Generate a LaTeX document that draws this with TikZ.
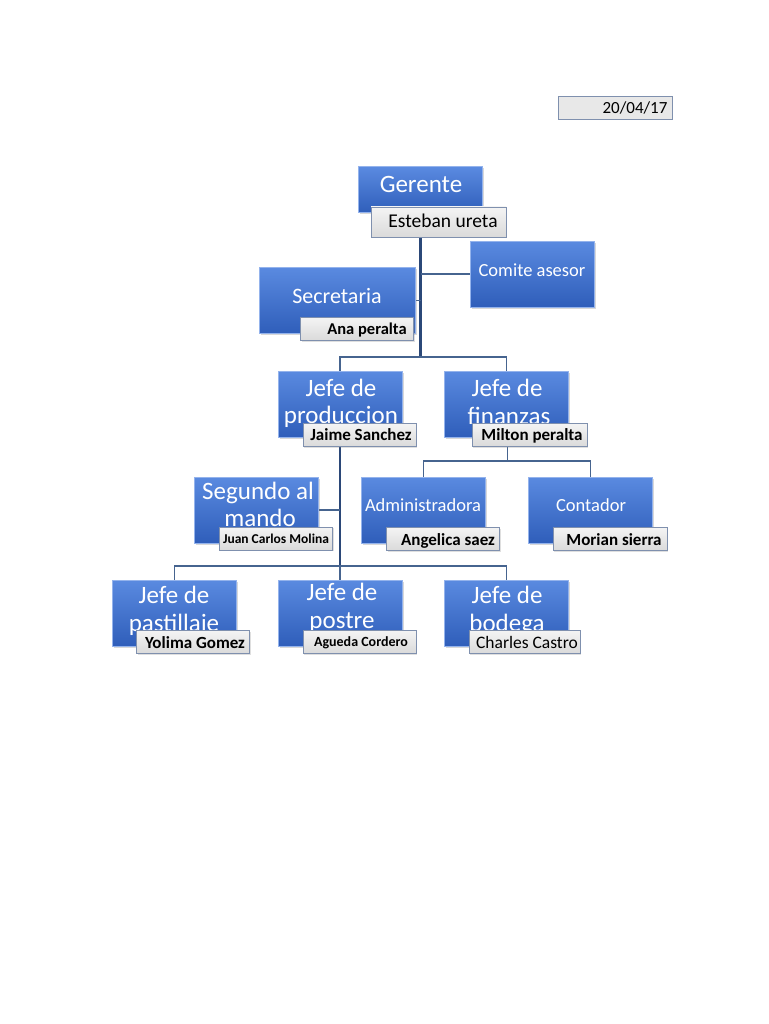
\documentclass[tikz,border=0pt]{standalone}
\usepackage{fontspec}
\setmainfont{Carlito}
\usetikzlibrary{shadows}
\pgfdeclarelayer{bg}
\pgfdeclarelayer{lines}
\pgfsetlayers{bg,lines,main}
\definecolor{btop}{HTML}{5A8AE0}
\definecolor{bmid}{HTML}{3D6ECF}
\definecolor{bbot}{HTML}{2F5EBA}
\definecolor{bedge}{HTML}{94B3EC}
\definecolor{ltop}{HTML}{F4F4F4}
\definecolor{lbot}{HTML}{DADADA}
\definecolor{ledge}{HTML}{7F90AE}
\definecolor{conn}{HTML}{46648F}
\definecolor{trunkc}{HTML}{2B4878}
\tikzset{
  bluebox/.style={draw=bedge, line width=1pt, top color=btop, middle color=bmid, bottom color=bbot,
    minimum width=124pt, minimum height=66pt, inner sep=0pt,
    drop shadow={shadow xshift=1.5pt, shadow yshift=-1.5pt, opacity=0.3}},
  lblbox/.style={draw=ledge, line width=0.9pt, top color=ltop, bottom color=lbot,
    minimum width=113pt, minimum height=23pt, inner sep=0pt,
    drop shadow={shadow xshift=1pt, shadow yshift=-1pt, opacity=0.25}},
  datebox/.style={draw=ledge, line width=0.9pt, fill=black!9,
    minimum width=114pt, minimum height=23pt, inner sep=0pt},
  bigtxt/.style={text=white, anchor=base, inner sep=0pt, font=\fontsize{25}{29}\selectfont},
  midtxt/.style={text=white, anchor=base, inner sep=0pt, font=\fontsize{18.5}{22}\selectfont},
  lbltxt/.style={text=black, anchor=base, inner sep=0pt, font=\bfseries\fontsize{17}{20}\selectfont},
  lblreg/.style={text=black, anchor=base, inner sep=0pt, font=\fontsize{17}{20}\selectfont},
  connline/.style={draw=conn, line width=1.4pt},
  trunkline/.style={draw=trunkc, line width=2.6pt},
}
\begin{document}
\begin{tikzpicture}[x=1pt,y=-1pt]
\begin{pgfonlayer}{bg}
\fill[white] (0,0) rectangle (768,1024);
\end{pgfonlayer}
\useasboundingbox (0,0) rectangle (768,1024);

% date
\node[datebox] (date) at (615,108) {};
\node[lblreg] (datet) at (635,114) {20/04/17};

% blue boxes
\node[bluebox, minimum height=46pt] (gerente) at (420.5,190) {};
\node[bluebox] (comite) at (532.5,274) {};
\node[bluebox, minimum width=156pt] (secretaria) at (337.5,300.5) {};
\node[bluebox] (prod) at (340,404) {};
\node[bluebox] (fin) at (506.5,404) {};
\node[bluebox] (segundo) at (256.5,510) {};
\node[bluebox] (admin) at (423.5,510) {};
\node[bluebox] (contador) at (590.5,510) {};
\node[bluebox] (pastillaje) at (174.5,613) {};
\node[bluebox] (postre) at (340,613) {};
\node[bluebox] (bodega) at (506.5,613) {};

% box texts
\node[bigtxt] (gerente-t) at (421,193) {Gerente};
\node[midtxt] (comite-t) at (532,276) {Comite asesor};
\node[bigtxt, font=\fontsize{22}{26}\selectfont] (secretaria-t) at (337,303) {Secretaria};
\node[bigtxt] (prod-t1) at (341,396) {Jefe de};
\node[bigtxt] (prod-t2) at (341,423) {produccion};
\node[bigtxt] (fin-t1) at (507,396) {Jefe de};
\node[bigtxt] (fin-t2) at (509,424) {finanzas};
\node[bigtxt] (segundo-t1) at (258,499) {Segundo al};
\node[bigtxt] (segundo-t2) at (260,526) {mando};
\node[midtxt] (admin-t) at (423,511) {Administradora};
\node[midtxt] (contador-t) at (591,511) {Contador};
\node[bigtxt] (pastillaje-t1) at (174,603) {Jefe de};
\node[bigtxt] (pastillaje-t2) at (174,631) {pastillaje};
\node[bigtxt] (postre-t1) at (342,600) {Jefe de};
\node[bigtxt] (postre-t2) at (342,628) {postre};
\node[bigtxt] (bodega-t1) at (507,603) {Jefe de};
\node[bigtxt] (bodega-t2) at (507,631) {bodega};

% name labels
\node[lblbox, minimum width=135pt, minimum height=30pt] (esteban) at (438.5,222) {};
\node[lblreg, font=\fontsize{19.5}{22}\selectfont] (esteban-t) at (443,228) {Esteban ureta};
\node[lblbox] (ana) at (357,329) {};
\node[lbltxt, font=\bfseries\fontsize{16.5}{19}\selectfont] (ana-t) at (367,334) {Ana peralta};
\node[lblbox] (jaime) at (359.5,435) {};
\node[lbltxt] (jaime-t) at (361,440) {Jaime Sanchez};
\node[lblbox, minimum width=115pt] (milton) at (529.5,435) {};
\node[lbltxt] (milton-t) at (532,440) {Milton peralta};
\node[lblbox] (juan) at (276,538.5) {};
\node[lbltxt, font=\bfseries\fontsize{13.5}{16}\selectfont] (juan-t) at (276,543) {Juan Carlos Molina};
\node[lblbox] (angelica) at (443,539) {};
\node[lbltxt] (angelica-t) at (448,545) {Angelica saez};
\node[lblbox, minimum width=114pt] (morian) at (610,539) {};
\node[lbltxt] (morian-t) at (614,545) {Morian sierra};
\node[lblbox] (yolima) at (193,642) {};
\node[lbltxt] (yolima-t) at (195,648) {Yolima Gomez};
\node[lblbox] (agueda) at (359.5,642) {};
\node[lbltxt, font=\bfseries\fontsize{14}{17}\selectfont] (agueda-t) at (361,646) {Agueda Cordero};
\node[lblbox, minimum width=111pt] (charles) at (524.5,642) {};
\node[lblreg, font=\fontsize{17.5}{20}\selectfont] (charles-t) at (527,648) {Charles Castro};

% junctions
\coordinate (j1) at (420.5,357);
\coordinate (j2) at (340,566);
\coordinate (j3) at (507.5,461);

\begin{pgfonlayer}{lines}
\draw[trunkline] (gerente.south) -- (j1);
\draw[connline] (j1) -| (prod.north);
\draw[connline] (j1) -| (fin.north);
\draw[connline] (gerente.south |- comite.west) -- (comite.west);
\draw[connline] (secretaria.east) -- (secretaria.east -| gerente.south);
\draw[trunkline] (prod.south) -- (j2);
\draw[connline] (segundo.east) -- (segundo.east -| prod.south);
\draw[connline] (j2) -| (pastillaje.north);
\draw[connline] (j2) -| (bodega.north);
\draw[connline] (j2) -- (postre.north);
\draw[connline] (fin.south -| j3) -- (j3);
\draw[connline] (j3) -| (admin.north);
\draw[connline] (j3) -| (contador.north);
\end{pgfonlayer}
\end{tikzpicture}
\end{document}
